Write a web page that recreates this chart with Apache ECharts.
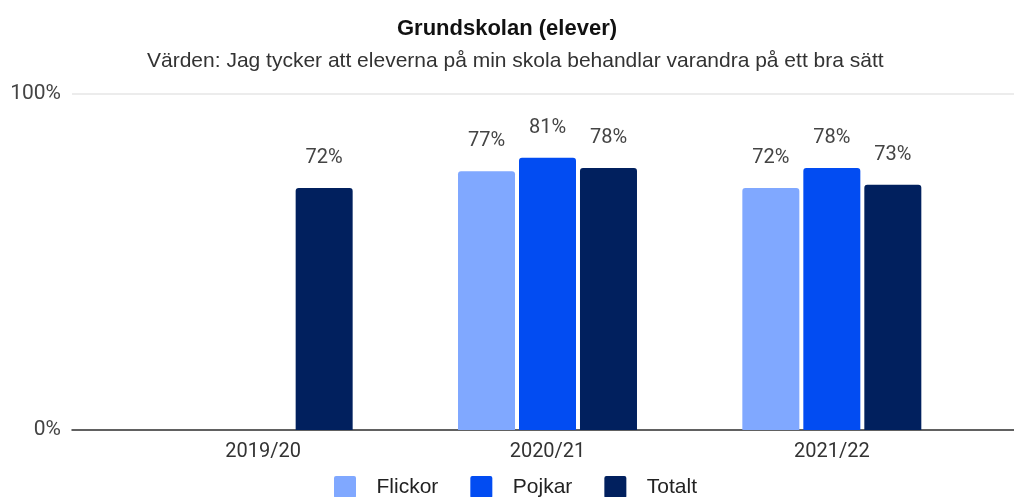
<!DOCTYPE html>
<html><head><meta charset="utf-8">
<script src="https://cdn.jsdelivr.net/npm/echarts@6/dist/echarts.min.js"></script>
<style>html,body{margin:0;padding:0;background:#fff}#c{width:1014px;height:497px}</style>
</head><body><div id="c"></div>
<script>
const categories = ['2019/20', '2020/21', '2021/22'];
const flickor = [null, 77, 72];
const pojkar = [null, 81, 78];
const totalt = [72, 78, 73];
const yTicks = [0, 100];

const chart = echarts.init(document.getElementById('c'));
const labelCfg = {show: true, position: 'top', distance: 20, formatter: p => p.value + '%', color: '#444', fontSize: 20, fontFamily: 'Roboto'};
const mk = (name, data, color) => ({
  name, type: 'bar', data, xAxisIndex: 1, yAxisIndex: 1,
  barWidth: 57, barGap: '7%',
  itemStyle: {color, borderRadius: [3, 3, 0, 0]},
  label: labelCfg
});
const sq = 'path://M2,0 H20 A2,2 0 0 1 22,2 V20 A2,2 0 0 1 20,22 H2 A2,2 0 0 1 0,20 V2 A2,2 0 0 1 2,0 Z';
chart.setOption({
  animation: false,
  title: [
    {text: 'Grundskolan (elever)', left: 'center', top: 13, textStyle: {fontFamily: 'Liberation Sans', fontSize: 22, fontWeight: 'bold', color: '#111'}},
    {text: 'Värden: Jag tycker att eleverna på min skola behandlar varandra på ett bra sätt', left: 142, top: 46, textStyle: {fontFamily: 'Liberation Sans', fontSize: 21, fontWeight: 'normal', color: '#333'}}
  ],
  legend: {
    bottom: -6, left: 329, itemWidth: 23, itemHeight: 22, itemGap: 32,
    icon: sq,
    textStyle: {fontFamily: 'Liberation Sans', fontSize: 21, color: '#222', padding: [0, 0, 0, 15]},
    data: ['Flickor', 'Pojkar', 'Totalt']
  },
  grid: [
    {left: 72, right: 0, top: 94, bottom: 67},
    {left: 121, right: 40, top: 94, bottom: 67}
  ],
  xAxis: [
    {type: 'category', gridIndex: 0, data: categories, axisLine: {lineStyle: {color: '#333', width: 1.5}}, axisTick: {show: false}, axisLabel: {show: false}},
    {type: 'category', gridIndex: 1, data: categories, axisLine: {show: false}, axisTick: {show: false},
     axisLabel: {color: '#333', fontSize: 20, fontFamily: 'Roboto', margin: 12}}
  ],
  yAxis: [
    {type: 'value', gridIndex: 0, min: 0, max: 100, interval: 100, axisLine: {show: false}, axisTick: {show: false},
     splitLine: {lineStyle: {color: '#e6e6e6', width: 1.5}},
     axisLabel: {formatter: v => yTicks.includes(v) ? v + '%' : '', color: '#444', fontSize: 21, fontFamily: 'Roboto', margin: 11, padding: [4, 0, 0, 0]}},
    {type: 'value', gridIndex: 1, min: 0, max: 100, interval: 100, show: false}
  ],
  series: [
    mk('Flickor', flickor, '#80a8ff'),
    mk('Pojkar', pojkar, '#024cf2'),
    mk('Totalt', totalt, '#01205e')
  ]
});
</script></body></html>
